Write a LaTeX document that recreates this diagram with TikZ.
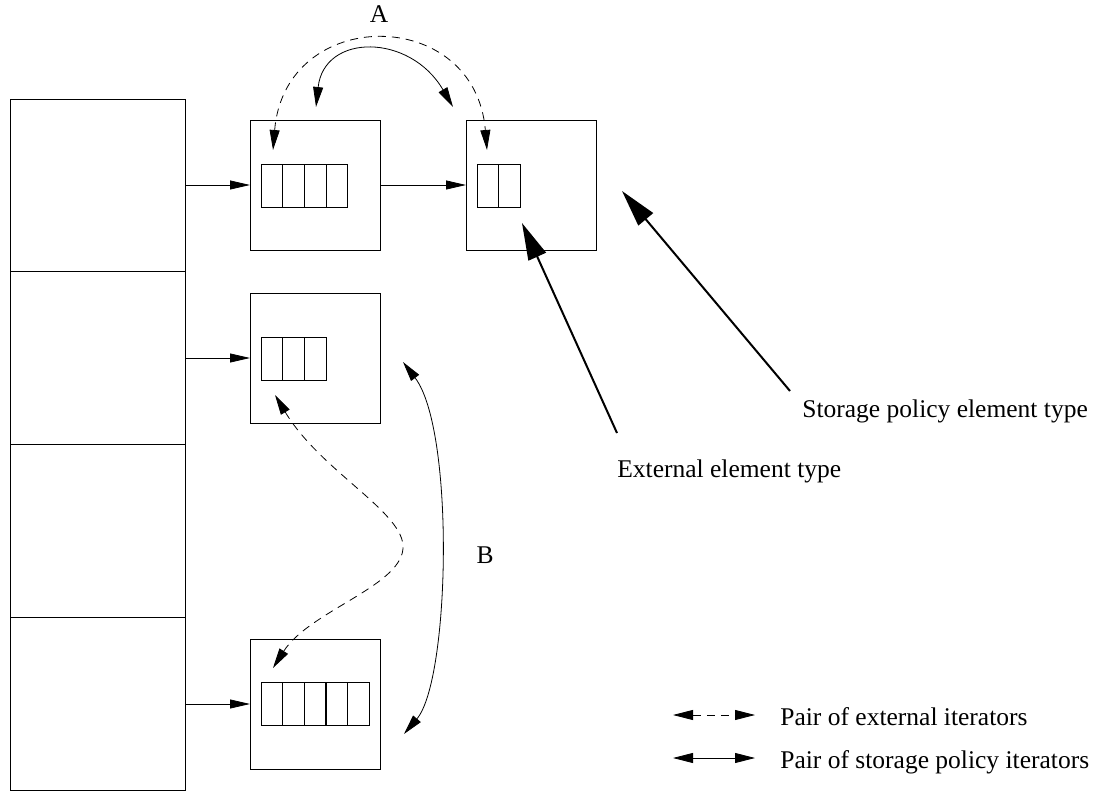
\documentclass[tikz,border=0pt]{standalone}
\usepackage{fontspec}
\setmainfont{Liberation Serif}
\usetikzlibrary{arrows.meta}
\begin{document}
\begin{tikzpicture}[x=1pt,y=-1pt,
  line width=0.8pt,
  cell/.style={draw, minimum width=175pt, minimum height=172.75pt, inner sep=0pt, outer sep=0pt},
  box/.style={draw, minimum width=130pt, minimum height=130pt, inner sep=0pt, outer sep=0pt},
  slot/.style={draw, anchor=north west, minimum width=21.7pt, minimum height=43pt, inner sep=0pt, outer sep=0pt},
  tip/.style={-{Triangle[length=20pt,width=9pt]}},
  pair/.style={{Triangle[length=20pt,width=10pt]}-{Triangle[length=20pt,width=10pt]}},
  ext/.style={pair, dash pattern=on 8pt off 6pt},
  big/.style={line width=2pt, -{Triangle[length=37pt,width=19pt]}},
  lbl/.style={font=\fontsize{25.5}{30}\selectfont, inner sep=0pt}
]
\useasboundingbox (0,0) rectangle (1101,791);
% left column of cells
\node[cell] (c1) at (97.5,185.4) {};
\node[cell] (c2) at (97.5,358.1) {};
\node[cell] (c3) at (97.5,530.9) {};
\node[cell] (c4) at (97.5,703.6) {};
% boxes
\node[box] (b1) at (315,185) {};
\node[box] (b2) at (531,185) {};
\node[box] (b3) at (315,358) {};
\node[box] (b4) at (315,704) {};
% inner arrays
\foreach \i in {0,...,3} \node[slot] (p\i) at (261+21.7*\i,164) {};
\foreach \i in {0,1} \node[slot] (q\i) at (477+21.7*\i,164) {};
\foreach \i in {0,...,2} \node[slot] (r\i) at (261+21.7*\i,337) {};
\foreach \i in {0,...,4} \node[slot] (t\i) at (261+21.6*\i,682) {};
% straight arrows
\draw[tip] (c1.east |- b1.west) -- (b1.west);
\draw[tip] (c2.east |- b3.west) -- (b3.west);
\draw[tip] (c4.east |- b4.west) -- (b4.west);
\draw[tip] (b1.east) -- (b2.west);
% A
\coordinate (as1) at (316,107);
\coordinate (as2) at (453,107);
\draw[pair] (as1) .. controls (324,33) and (410,33) .. (as2);
\coordinate (ad1) at (273,150);
\coordinate (ad2) at (487,150);
\draw[ext] (ad1) .. controls (285,5) and (475,5) .. (ad2);
\node[lbl, anchor=base] (la) at (379,23) {A};
% B
\coordinate (bs1) at (403,362);
\coordinate (bs2) at (404,734);
\draw[pair] (bs1) .. controls (455,430) and (450,680) .. (bs2);
\coordinate (bd1) at (275,395);
\coordinate (bdm) at (403,545);
\coordinate (bd2) at (273,668);
\draw[ext] (bd1) .. controls (320,470) and (400,510) .. (bdm) .. controls (406,585) and (310,610) .. (bd2);
\node[lbl, anchor=base] (lb) at (485,563) {B};
% big arrows and labels
\node[lbl, anchor=base west] (le) at (617,478) {External element type};
\node[lbl, anchor=base west] (ls) at (802,418) {Storage policy element type};
\coordinate (e1) at (617,433);
\coordinate (e2) at (522,223);
\draw[big] (e1) -- (e2);
\coordinate (s1) at (790,391);
\coordinate (s2) at (622,191);
\draw[big] (s1) -- (s2);
% legend
\coordinate (l1a) at (673,715);
\coordinate (l1b) at (755,715);
\draw[ext] (l1a) -- (l1b);
\coordinate (l2a) at (673,758);
\coordinate (l2b) at (755,758);
\draw[pair] (l2a) -- (l2b);
\node[lbl, anchor=base west] (lt1) at (780,725) {Pair of external iterators};
\node[lbl, anchor=base west] (lt2) at (780,768) {Pair of storage policy iterators};
\end{tikzpicture}
\end{document}
